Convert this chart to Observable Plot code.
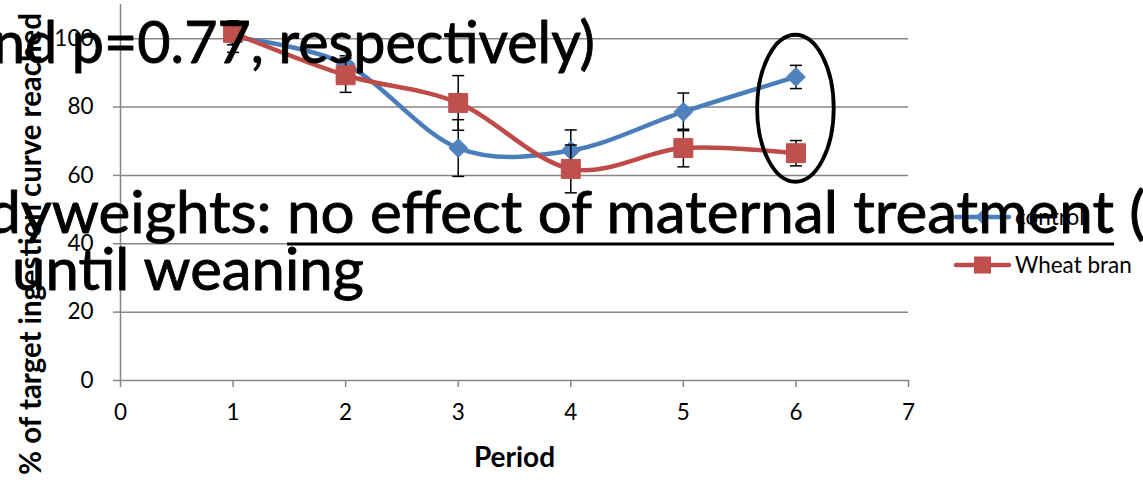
<!DOCTYPE html>
<html>
<head>
<meta charset="utf-8">
<script src="https://cdn.jsdelivr.net/npm/d3@7"></script>
<script src="https://cdn.jsdelivr.net/npm/@observablehq/plot@0.6"></script>
<style>
  html, body { margin: 0; padding: 0; background: #fff; }
  #wrap { position: relative; width: 1143px; height: 480px; overflow: hidden; font-family: Lato, "Open Sans", sans-serif; }
  #overlay { position: absolute; left: 0; top: 0; pointer-events: none; }
</style>
</head>
<body>
<div id="wrap"></div>
<script>
// ---------- data ----------
const periods = [1, 2, 3, 4, 5, 6];
const seriesNames = ["control", "Wheat bran"];
const controlMean = [100.5, 92.5, 68.0, 67.3, 78.6, 88.8];
const controlErr  = [4.5, 2.5, 8.3, 6.0, 5.5, 3.4];
const wheatMean   = [101.7, 89.3, 81.2, 61.9, 68.0, 66.5];
const wheatErr    = [3.5, 5.0, 8.0, 7.0, 5.5, 3.7];
const xTicks = [0, 1, 2, 3, 4, 5, 6, 7];
const yTicks = [0, 20, 40, 60, 80, 100];
const xTitle = "Period";
const yTitle = "% of target ingestion curve reached";
// highlighted period (ellipse annotation), in data units
const highlight = { period: 6, halfWidth: 0.34, yLow: 58, yHigh: 101 };
// slide text that overlaps the chart
const slideLine1 = "nd p=0.77, respectively)";
const slideLine2Pre = "dyweights: ";
const slideLine2Under = "no effect of maternal treatment";
const slideLine2Post = " (";
const slideLine3 = "until weaning";

// ---------- build ----------
const rows = (name, means, errs) => periods.map((p, i) => ({ series: name, period: p, mean: means[i], err: errs[i] }));
const control = rows(seriesNames[0], controlMean, controlErr);
const wheat = rows(seriesNames[1], wheatMean, wheatErr);

const blueLine = "#4A7EBB", blueMarker = "#4F81BD";
const redLine = "#BE4B48", redMarker = "#C0504D";
const gridGray = "#868686";
const FONT = "Lato, 'Open Sans', sans-serif";

const capSymbol = { draw(ctx) { ctx.moveTo(-6, 0); ctx.lineTo(6, 0); } };

function seriesMarks(data, lineColor, markerColor, symbol, r) {
  return [
    Plot.line(data, { x: "period", y: "mean", stroke: lineColor, strokeWidth: 4.5, curve: "cardinal" }),
    Plot.ruleX(data, { x: "period", y1: d => d.mean - d.err, y2: d => d.mean + d.err, stroke: "#000", strokeWidth: 1.5 }),
    Plot.dot(data, { x: "period", y: d => d.mean + d.err, symbol: capSymbol, r: 3, fill: "none", stroke: "#000", strokeWidth: 1.5 }),
    Plot.dot(data, { x: "period", y: d => d.mean - d.err, symbol: capSymbol, r: 3, fill: "none", stroke: "#000", strokeWidth: 1.5 }),
    Plot.dot(data, { x: "period", y: "mean", symbol, r, fill: markerColor, stroke: markerColor, strokeWidth: 1 })
  ];
}

function ellipseMark(index, scales) {
  const cx = scales.x(highlight.period);
  const rx = scales.x(highlight.period + highlight.halfWidth) - cx;
  const y1 = scales.y(highlight.yHigh), y2 = scales.y(highlight.yLow);
  const e = d3.create("svg:ellipse")
    .attr("cx", cx).attr("cy", (y1 + y2) / 2)
    .attr("rx", rx).attr("ry", (y2 - y1) / 2)
    .attr("fill", "none").attr("stroke", "#000").attr("stroke-width", 3.8);
  return e.node();
}

const chart = Plot.plot({
  width: 1143, height: 480,
  marginLeft: 120, marginRight: 235, marginTop: 4, marginBottom: 100,
  x: { domain: [0, 7] },
  y: { domain: [0, 110] },
  style: { fontFamily: FONT, fontSize: "22.5px", color: "#000", background: "#fff", overflow: "visible" },
  marks: [
    Plot.ruleY(yTicks.filter(v => v > 0), { stroke: gridGray, strokeWidth: 1.5 }),
    Plot.ruleY([0], { stroke: gridGray, strokeWidth: 1.5 }),
    Plot.ruleX([0], { stroke: gridGray, strokeWidth: 1.5 }),
    Plot.axisY({ ticks: yTicks, tickSize: 7, tickPadding: 20, stroke: gridGray, strokeWidth: 1.5, label: null, tickFormat: d => String(d) }),
    Plot.axisX({ ticks: xTicks, tickSize: 7, tickPadding: 17, stroke: gridGray, strokeWidth: 1.5, label: null, tickFormat: d => String(d) }),
    Plot.text([xTitle], { text: d => d, frameAnchor: "bottom", dy: 78, fontWeight: "bold", fontSize: 28, lineAnchor: "middle", fill: "#000" }),
    ...seriesMarks(control, blueLine, blueMarker, "diamond2", 8.5),
    ...seriesMarks(wheat, redLine, redMarker, "square", 10.7),
    ellipseMark
  ]
});

const wrap = document.getElementById("wrap");
wrap.appendChild(chart);

// ---------- overlay: y title, legend, slide text ----------
const ov = d3.select(wrap).append("svg").attr("id", "overlay")
  .attr("width", 1143).attr("height", 480);

// y-axis title (rotated), fitted to the span it covers
const yt = ov.append("text").attr("font-family", FONT).attr("font-weight", "bold").attr("font-size", 31)
  .attr("fill", "#000").attr("text-anchor", "middle").attr("x", 0).attr("y", 0).text(yTitle);
{
  const w = yt.node().getComputedTextLength();
  const s = Math.min(1.15, 462 / w);
  yt.attr("transform", `translate(41,244) rotate(-90) scale(${s},1)`);
}

const legendItems = [
  { name: seriesNames[0], line: blueLine, marker: blueMarker, sym: d3.symbolDiamond2, size: 130, y: 217 },
  { name: seriesNames[1], line: redLine, marker: redMarker, sym: d3.symbolSquare, size: 290, y: 265 }
];
const lg = ov.append("g").attr("font-family", FONT).attr("font-size", 22.5);
legendItems.forEach(it => {
  lg.append("line").attr("x1", 956).attr("x2", 1009).attr("y1", it.y).attr("y2", it.y)
    .attr("stroke", it.line).attr("stroke-width", 4.5).attr("stroke-linecap", "round");
  lg.append("path").attr("d", d3.symbol(it.sym, it.size)()).attr("transform", `translate(982.5,${it.y})`)
    .attr("fill", it.marker);
  lg.append("text").attr("x", 1015).attr("y", it.y).attr("dy", "0.35em").attr("fill", "#000").text(it.name);
});

const st = ov.append("g").attr("font-family", FONT).attr("font-size", 58)
  .attr("fill", "#000").attr("stroke", "#000").attr("stroke-width", 0.9).attr("stroke-linejoin", "round");

// line 1
const t1 = st.append("text").attr("x", 0).attr("y", 0).text(slideLine1);
{
  const w = t1.node().getComputedTextLength();
  const s = 602 / w;
  t1.attr("transform", `translate(-7,63) scale(${s},1)`);
}
// line 2
const t2 = st.append("text").attr("x", 0).attr("y", 0);
t2.append("tspan").text(slideLine2Pre);
t2.append("tspan").text(slideLine2Under);
t2.append("tspan").text(slideLine2Post);
{
  const n = t2.node();
  const preLen = n.getSubStringLength(0, slideLine2Pre.length);
  const undLen = n.getSubStringLength(slideLine2Pre.length, slideLine2Under.length);
  const s = (1114 - 287) / undLen;
  const x0 = 287 - s * preLen;
  t2.attr("transform", `translate(${x0},233) scale(${s},1)`);
  st.append("rect").attr("x", 287).attr("y", 242.5).attr("width", 1114 - 287).attr("height", 3)
    .attr("fill", "#000").attr("stroke", "none");
}
// line 3
const t3 = st.append("text").attr("x", 0).attr("y", 0).text(slideLine3);
{
  const w = t3.node().getComputedTextLength();
  const s = 352 / w;
  t3.attr("transform", `translate(12,290) scale(${s},1)`);
}
</script>
</body>
</html>
